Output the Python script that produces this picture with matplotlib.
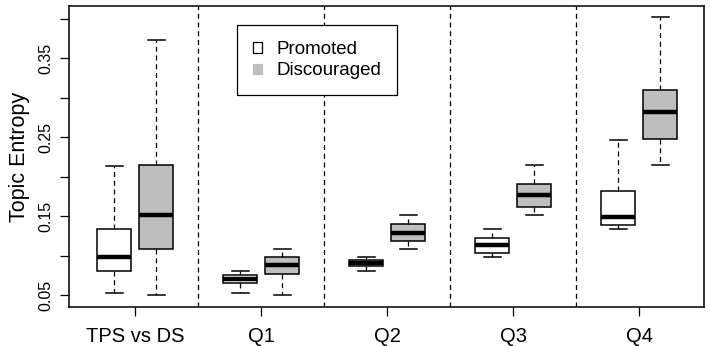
import matplotlib.pyplot as plt
from matplotlib.patches import Patch

plt.rcParams['font.family'] = ['Liberation Sans', 'DejaVu Sans']

groups = ["TPS vs DS", "Q1", "Q2", "Q3", "Q4"]

# per group: whisker low, q1, median, q3, whisker high
promoted_low = [0.0525, 0.0525, 0.0804, 0.0981, 0.1335]
promoted_q1 = [0.0804, 0.0652, 0.0875, 0.1032, 0.1386]
promoted_med = [0.0981, 0.0703, 0.0905, 0.1133, 0.1487]
promoted_q3 = [0.1335, 0.0753, 0.0943, 0.1222, 0.1816]
promoted_high = [0.2137, 0.0804, 0.0981, 0.1335, 0.2462]

discouraged_low = [0.0500, 0.0500, 0.1082, 0.1513, 0.2146]
discouraged_q1 = [0.1086, 0.0766, 0.1184, 0.1614, 0.2475]
discouraged_med = [0.1513, 0.0880, 0.1285, 0.1766, 0.2816]
discouraged_q3 = [0.2146, 0.0981, 0.1399, 0.1905, 0.3095]
discouraged_high = [0.3728, 0.1086, 0.1513, 0.2146, 0.4023]

series_names = ["Promoted", "Discouraged"]
series_colors = ["white", "#bebebe"]


def make_stats(low, q1, med, q3, high):
    return [dict(whislo=a, q1=b, med=c, q3=d, whishi=e, fliers=[])
            for a, b, c, d, e in zip(low, q1, med, q3, high)]


fig = plt.figure(figsize=(7.10, 3.46), dpi=100)
ax = fig.add_axes([0.0976, 0.1118, 0.8944, 0.8709])

offset = 0.1667
width = 0.27
lw = 1.1

all_stats = [
    make_stats(promoted_low, promoted_q1, promoted_med, promoted_q3, promoted_high),
    make_stats(discouraged_low, discouraged_q1, discouraged_med, discouraged_q3, discouraged_high),
]

for k, stats in enumerate(all_stats):
    pos = [i + (offset if k else -offset) for i in range(len(groups))]
    ax.bxp(stats, positions=pos, widths=width, patch_artist=True,
           showfliers=False, manage_ticks=False,
           boxprops=dict(facecolor=series_colors[k], edgecolor="black", linewidth=lw),
           medianprops=dict(color="black", linewidth=3.2, solid_capstyle="butt"),
           whiskerprops=dict(color="black", linewidth=0.9, linestyle=(0, (4, 3))),
           capprops=dict(color="black", linewidth=lw),
           capwidths=width * 0.5)

# separators between groups
for i in range(len(groups) - 1):
    ax.axvline(i + 0.5, color="black", linewidth=0.9, linestyle=(0, (4, 3)))

ax.set_xlim(-0.524, 4.516)
ax.set_ylim(0.0348, 0.4162)

ax.set_xticks(range(len(groups)))
ax.set_xticklabels(groups, fontsize=14.5)
yt = [0.05, 0.10, 0.15, 0.20, 0.25, 0.30, 0.35, 0.40]
ax.set_yticks(yt)
ax.set_yticklabels(["0.05", "", "0.15", "", "0.25", "", "0.35", ""],
                   rotation=90, va="center", fontsize=11.5)
ax.tick_params(axis="x", length=6.2, width=0.9, pad=8)
ax.tick_params(axis="y", length=6.7, width=0.9, pad=5)
for s in ax.spines.values():
    s.set_linewidth(1.1)

ax.set_ylabel("Topic Entropy", fontsize=15.5, labelpad=6)

handles = [Patch(facecolor=series_colors[0], edgecolor="black", linewidth=0.9),
           Patch(facecolor=series_colors[1], edgecolor=series_colors[1], linewidth=0.9)]
leg = ax.legend(handles, series_names, loc="upper left",
                bbox_to_anchor=(0.2646, 0.936), borderaxespad=0,
                fancybox=False, framealpha=1, edgecolor="black",
                fontsize=13.5, handlelength=0.45, handleheight=0.45,
                handletextpad=0.78, borderpad=0.85, labelspacing=0.22)
leg.get_frame().set_linewidth(0.9)

fig.savefig("out.png", dpi=100)
